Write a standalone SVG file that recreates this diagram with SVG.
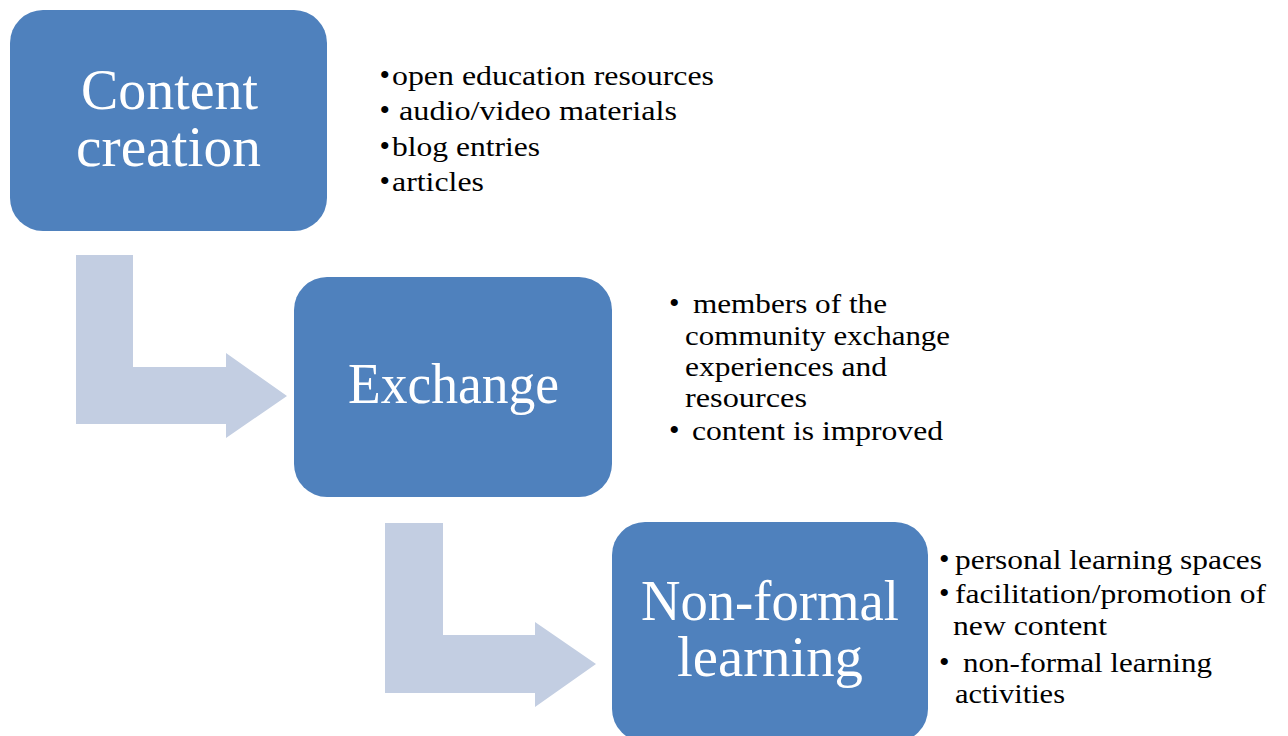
<svg xmlns="http://www.w3.org/2000/svg" width="1288" height="736" viewBox="0 0 1288 736">
  <style>
    .box { fill: #4F81BD; }
    .arrow { fill: #C3CEE2; }
    .title { font-family: "Liberation Serif", "Times New Roman", serif; font-size: 56px; fill: #FFFFFF; }
    .item { font-family: "Liberation Serif", "Times New Roman", serif; font-size: 28px; fill: #000000; }
    .bullet { font-size: 30px; }
  </style>
  <rect width="1288" height="736" fill="#FFFFFF"/>

  <g id="connectors">
    <polygon class="arrow" points="76,255 133,255 133,367 226,367 226,353 287,396 226,438 226,424 76,424"/>
    <polygon class="arrow" points="385,523 443,523 443,635 535,635 535,622 596,664 535,707 535,693 385,693"/>
  </g>

  <g id="node-content-creation">
    <rect class="box" x="10" y="10" width="317" height="221" rx="33" ry="33"/>
    <text class="title" x="81" y="109" textLength="177" lengthAdjust="spacingAndGlyphs">Content</text>
    <text class="title" x="76" y="166" textLength="185" lengthAdjust="spacingAndGlyphs">creation</text>
  </g>

  <g id="list-content-creation">
    <text class="item" y="85"><tspan class="bullet" x="379.5">•</tspan><tspan x="392" textLength="322" lengthAdjust="spacingAndGlyphs">open education resources</tspan></text>
    <text class="item" y="120"><tspan class="bullet" x="379.5">•</tspan><tspan x="399" textLength="278" lengthAdjust="spacingAndGlyphs">audio/video materials</tspan></text>
    <text class="item" y="156"><tspan class="bullet" x="379.5">•</tspan><tspan x="392" textLength="148" lengthAdjust="spacingAndGlyphs">blog entries</tspan></text>
    <text class="item" y="191"><tspan class="bullet" x="379.5">•</tspan><tspan x="392" textLength="92" lengthAdjust="spacingAndGlyphs">articles</tspan></text>
  </g>

  <g id="node-exchange">
    <rect class="box" x="294" y="277" width="318" height="220" rx="33" ry="33"/>
    <text class="title" x="348" y="403" textLength="211" lengthAdjust="spacingAndGlyphs">Exchange</text>
  </g>

  <g id="list-exchange">
    <text class="item" y="313"><tspan class="bullet" x="669">•</tspan><tspan x="693" textLength="194" lengthAdjust="spacingAndGlyphs">members of the</tspan></text>
    <text class="item" x="685" y="345" textLength="265" lengthAdjust="spacingAndGlyphs">community exchange</text>
    <text class="item" x="685" y="376" textLength="202" lengthAdjust="spacingAndGlyphs">experiences and</text>
    <text class="item" x="685" y="407" textLength="122" lengthAdjust="spacingAndGlyphs">resources</text>
    <text class="item" y="440"><tspan class="bullet" x="669">•</tspan><tspan x="692" textLength="251" lengthAdjust="spacingAndGlyphs">content is improved</tspan></text>
  </g>

  <g id="node-non-formal-learning">
    <rect class="box" x="612" y="522" width="316" height="220" rx="33" ry="33"/>
    <text class="title" x="641" y="620" textLength="258" lengthAdjust="spacingAndGlyphs">Non-formal</text>
    <text class="title" x="677" y="676" textLength="186" lengthAdjust="spacingAndGlyphs">learning</text>
  </g>

  <g id="list-non-formal-learning">
    <text class="item" y="569"><tspan class="bullet" x="939">•</tspan><tspan x="955" textLength="307" lengthAdjust="spacingAndGlyphs">personal learning spaces</tspan></text>
    <text class="item" y="603"><tspan class="bullet" x="939">•</tspan><tspan x="955" textLength="311" lengthAdjust="spacingAndGlyphs">facilitation/promotion of</tspan></text>
    <text class="item" x="953" y="635" textLength="154" lengthAdjust="spacingAndGlyphs">new content</text>
    <text class="item" y="672"><tspan class="bullet" x="939">•</tspan><tspan x="963" textLength="249" lengthAdjust="spacingAndGlyphs">non-formal learning</tspan></text>
    <text class="item" x="955" y="703" textLength="110" lengthAdjust="spacingAndGlyphs">activities</text>
  </g>
</svg>
